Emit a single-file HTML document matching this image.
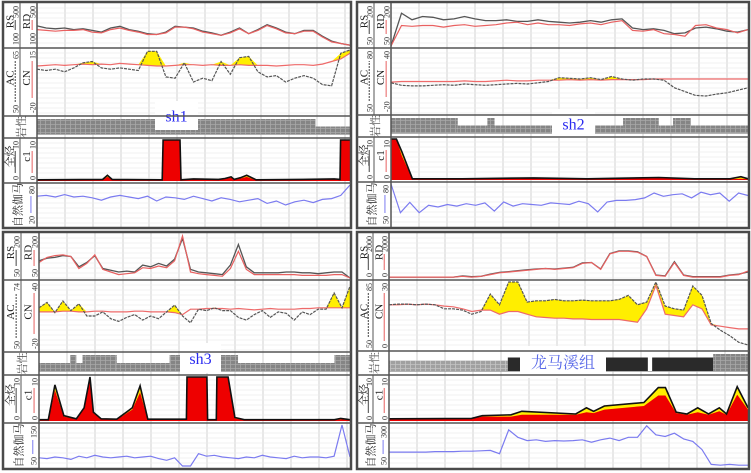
<!DOCTYPE html>
<html><head><meta charset="utf-8">
<style>
html,body{margin:0;padding:0;background:#fff;}
svg{display:block;font-family:"Liberation Serif","Noto Serif CJK SC",serif;}
</style></head>
<body>
<svg id="chart" width="751" height="473" viewBox="0 0 751 473">
<defs>
<pattern id="brick" width="5" height="4" patternUnits="userSpaceOnUse">
<rect width="5" height="4" fill="#858585"/>
<path d="M0 0.5H5M0.5 0V4" stroke="#a8a8a8" stroke-width="0.8"/>
</pattern>
<pattern id="brickL" width="5" height="4" patternUnits="userSpaceOnUse">
<rect width="5" height="4" fill="#a0a0a0"/>
<path d="M0 0.5H5M0.5 0V4" stroke="#c4c4c4" stroke-width="0.8"/>
</pattern>
</defs>
<g id="layer"></g>
</svg>
<script>
// ---------- Panel 1 (sh1) ----------
const p1_rs=[49,44,42,44,40,42,38,34,44,48,40,36,30,28,34,48,46,44,36,32,26,34,44,30,40,52,44,34,30,38,38,24,12,6,2];
const p1_rd=[40,38,36,38,38,40,34,32,40,44,38,34,28,28,32,46,46,42,34,30,26,32,42,30,38,50,42,32,30,36,36,22,10,6,2];
const p1_cn=[75,76,77,76,77,78,77,78,77,79,78,77,76,75,75,76,77,77,76,77,76,76,77,76,76,76,75,76,77,77,76,78,82,86,95];
const p1_ac=[70,68,70,66,72,80,82,72,70,72,70,68,98,98,58,56,80,50,56,52,82,62,88,90,66,58,60,50,56,60,56,46,44,95,100];
const p1_tg_depth=[0,21,22.5,24,40,40.3,45.7,46,50,58,60,62,63,65,67,70,85,95,96.8,97,100];
const p1_tg=[3,4,14,4,3,100,100,3,5,4,6,10,4,8,14,3,4,5,4,100,100];
const p1_c1=[2,3,10,3,2,100,100,2,4,3,5,8,3,6,10,2,3,4,3,100,100];
const p1_gr=[72,74,70,76,70,72,68,62,70,74,70,66,72,60,70,68,64,72,66,60,68,64,58,62,66,54,60,50,58,62,56,64,66,74,100];
const p1_litho_start=[0,89];
const p1_litho_end=[89,100];
const p1_litho_type=["full","half"];
// ---------- Panel 2 (sh2) ----------
const p2_rs=[0,80,64,72,70,64,66,72,66,62,62,64,60,60,64,60,58,56,58,62,58,64,66,44,40,42,38,30,32,44,46,42,36,34,40];
const p2_rd=[0,50,48,50,50,46,50,52,48,50,52,56,58,52,56,52,52,50,54,56,52,58,62,38,36,40,30,28,24,50,52,44,40,32,40];
const p2_cn=[49,50,50,50,50,50,50,51,50,50,51,52,51,51,52,52,52,53,52,53,52,53,53,53,53,54,54,54,54,54,54,54,54,54,54];
const p2_ac=[48,44,43,43,44,45,44,46,45,44,45,46,47,46,48,50,56,55,54,56,53,58,54,52,54,54,52,40,34,28,27,30,32,36,40];
const p2_tg_depth=[0,1.5,3,6,20,40,55,75,85,95,98,100];
const p2_tg=[100,100,70,3,3,5,3,6,3,3,8,3];
const p2_c1=[100,100,60,2,2,4,2,5,2,2,3,2];
const p2_gr=[100,30,55,30,48,44,50,46,52,48,54,34,56,46,52,50,48,54,52,50,58,52,32,56,60,60,62,66,78,70,74,76,66,80,74,78,58,78,72];
const p2_litho_start=[0,18.7,27,29,57,65,75,79,84];
const p2_litho_end=[18.7,27,29,57,65,75,79,84,100];
const p2_litho_type=["full","half","full","half","half","full","half","full","half"];
// ---------- Panel 3 (sh3) ----------
const p3_rs=[40,46,48,52,50,26,36,52,22,18,14,16,14,30,26,34,28,44,92,20,14,12,10,8,30,78,26,12,12,12,12,14,14,12,12,10,12,14,14,0];
const p3_rd=[36,48,52,54,50,22,34,54,20,14,8,10,12,24,22,28,24,40,98,14,10,8,6,4,22,62,20,8,8,8,8,8,8,6,6,6,6,8,8,0];
const p3_cn=[56,56,56,57,57,56,56,57,57,56,56,56,57,57,56,56,56,55,52,60,60,61,61,61,60,61,60,59,60,61,60,60,60,61,61,62,62,62,62,62];
const p3_ac=[62,70,55,72,58,68,50,50,56,46,42,48,52,44,50,46,56,66,50,40,60,58,62,58,58,48,44,52,58,48,56,54,44,56,52,60,60,84,62,94];
const p3_tg_depth=[0,3,5.1,8,12,14.5,16.4,17.5,20,25,30,32.5,35,40,47.4,47.6,54,54.2,57,57.2,60.8,63,66,80,95,97,100];
const p3_tg=[3,3,82,12,5,30,100,20,5,4,30,80,4,4,4,100,100,3,3,100,100,8,3,3,3,6,3];
const p3_c1=[2,2,70,10,4,28,100,18,4,3,26,65,3,3,3,100,100,2,2,100,100,6,2,2,2,4,2];
const p3_gr=[20,18,22,20,16,24,20,26,22,20,22,24,20,22,24,18,14,20,0,0,30,24,26,22,20,18,22,20,26,22,20,18,24,20,22,22,20,24,100,22];
const p3_litho_start=[0,10,12,14,25,42,58,64,95];
const p3_litho_end=[10,12,14,25,42,58,64,95,100];
const p3_litho_type=["half","full","half","full","half","full","full","half","full"];
// ---------- Panel 4 (龙马溪组) ----------
const p4_rd=[2,2,2,2,2,2,2,2,4,2,4,8,12,14,16,18,20,22,20,22,24,34,36,20,56,62,62,60,50,6,4,36,6,2,2,2,2,6,8,16];
const p4_rs=[2,2,2,2,2,2,2,2,5,3,4,9,13,15,17,19,21,22,21,23,25,35,36,21,57,63,63,61,50,7,5,38,7,3,3,3,3,7,9,14];
const p4_cn=[66,66,67,66,67,66,64,63,60,56,58,58,52,56,56,52,48,47,46,46,45,45,44,44,44,44,42,40,60,95,52,50,48,66,60,36,34,32,30,30];
const p4_ac=[66,67,67,66,67,66,60,60,58,52,56,82,66,100,100,70,72,72,74,72,72,73,72,72,72,74,80,66,70,100,64,60,58,94,80,38,28,20,10,6];
const p4_tg_depth=[0,23,26,34,37,52,55,57,60,71,75,77,80,83,86,89,92,94,97,100];
const p4_tg=[5,6,12,14,22,16,30,22,34,42,76,76,20,16,30,16,30,16,78,30];
const p4_c1=[4,5,10,10,14,14,20,18,26,34,58,58,18,14,20,14,22,14,60,26];
const p4_gr=[34,34,34,34,34,35,35,35,36,36,37,38,30,88,70,62,64,60,62,61,62,64,58,64,68,62,70,70,98,76,72,80,66,60,40,4,2,4,2,2];
const p4_litho_start=[0,33.1,60.2,73.3,90.3];
const p4_litho_end=[33.1,37.3,72.1,90.3,100];
const p4_litho_type=["light","black","black","black","full"];

const NS="http://www.w3.org/2000/svg";
const layer=document.getElementById("layer");
function mk(tag,attrs,parent){const e=document.createElementNS(NS,tag);for(const k in attrs)e.setAttribute(k,attrs[k]);(parent||layer).appendChild(e);return e;}

const panels=[
 {id:"sh1",x0:3,x1:351,px:37,lx:20,y:[3,48,116,138,183,227],tag:"sh1",tagBox:[155,101,43,29],
  rs:p1_rs,rd:p1_rd,cn:p1_cn,ac:p1_ac,tgd:p1_tg_depth,tg:p1_tg,c1:p1_c1,gr:p1_gr,ls:p1_litho_start,le:p1_litho_end,lt:p1_litho_type,
  lab:[["RS","100","500"],["RD","100","500"],["AC","50","65"],["CN","-20","15"],["全烃","0","10"],["c1","0","10"],["伽马","20","80"]]},
 {id:"sh2",x0:357,x1:749,px:391,lx:374,y:[3,48,115,137,182,227],tag:"sh2",tagBox:[552,109,43,29],
  rs:p2_rs,rd:p2_rd,cn:p2_cn,ac:p2_ac,tgd:p2_tg_depth,tg:p2_tg,c1:p2_c1,gr:p2_gr,ls:p2_litho_start,le:p2_litho_end,lt:p2_litho_type,
  lab:[["RS","50","200"],["RD","50","200"],["AC","50","80"],["CN","-20","40"],["全烃","0","10"],["c1","0","10"],["伽马","50","80"]]},
 {id:"sh3",x0:3,x1:351,px:39,lx:21,y:[233,280,352,375,423,468],tag:"sh3",tagBox:[180,343,41,30],
  rs:p3_rs,rd:p3_rd,cn:p3_cn,ac:p3_ac,tgd:p3_tg_depth,tg:p3_tg,c1:p3_c1,gr:p3_gr,ls:p3_litho_start,le:p3_litho_end,lt:p3_litho_type,
  lab:[["RS","50","200"],["RD","50","200"],["AC","50","74"],["CN","-20","40"],["全烃","0","10"],["c1","0","10"],["伽马","50","150"]]},
 {id:"lmx",x0:357,x1:749,px:389,lx:373,y:[233,280,351,375,423,468],tag:"龙马溪组",tagBox:[520,346,86,32],
  rs:p4_rs,rd:p4_rd,cn:p4_cn,ac:p4_ac,tgd:p4_tg_depth,tg:p4_tg,c1:p4_c1,gr:p4_gr,ls:p4_litho_start,le:p4_litho_end,lt:p4_litho_type,
  lab:[["RS","0","2000"],["RD","0","2000"],["AC","50","85"],["CN","0","30"],["全烃","0","10"],["c1","0","10"],["伽马","50","300"]]}
];

function xs(p,d){return p.px+d/100*(p.x1-1-p.px);}
function ys(t0,t1,v){return t1-2-v/100*(t1-t0-4);}
function evenPts(p,t0,t1,arr){return arr.map((v,i)=>[xs(p,i/(arr.length-1)*100),ys(t0,t1,v)]);}
function depthPts(p,t0,t1,dep,arr){return arr.map((v,i)=>[xs(p,dep[i]),ys(t0,t1,v)]);}
function ptsStr(a){return a.map(q=>q[0].toFixed(1)+","+q[1].toFixed(1)).join(" ");}

panels.forEach(p=>{
 const g=mk("g",{});
 
 
 const Y=p.y;
 for(let x=p.px+28;x<p.x1-2;x+=28){
  const gl=mk("line",{x1:x,x2:x,y1:Y[0],y2:Y[5],stroke:"#d0d0d0","stroke-width":1},g);
  
  
 }
 [0,1,3,4].forEach(k=>{
  for(let yy=Y[k]+5;yy<Y[k+1]-1;yy+=5){
   const hl=mk("line",{x1:p.px,x2:p.x1,y1:yy,y2:yy,stroke:"#ececec","stroke-width":0.8},g);
   
   
  }
 });
 const rs=mk("polyline",{points:ptsStr(evenPts(p,Y[0],Y[1],p.rs)),fill:"none",stroke:"#555","stroke-width":1.3},g);
 
 
 const rd=mk("polyline",{points:ptsStr(evenPts(p,Y[0],Y[1],p.rd)),fill:"none",stroke:"#e86060","stroke-width":1.2},g);
 
 
 const ac=evenPts(p,Y[1],Y[2],p.ac), cn=evenPts(p,Y[1],Y[2],p.cn);
 const up=p.ac.map((v,i)=>[ac[i][0],ys(Y[1],Y[2],Math.max(v,p.cn[i]))]);
 const fill=mk("polygon",{points:ptsStr(up.concat(cn.slice().reverse())),fill:"#ffee00",stroke:"none"},g);
 
 
 const cnl=mk("polyline",{points:ptsStr(cn),fill:"none",stroke:"#ee6a6a","stroke-width":1.2},g);
 
 
 const acl=mk("polyline",{points:ptsStr(ac),fill:"none",stroke:"#555","stroke-width":1.2,"stroke-dasharray":"3,1"},g);
 
 
 const lt=Y[2]+3, lb=Y[3]-4, lm=(lt+lb)/2;
 p.ls.forEach((s,i)=>{
  const x1=xs(p,s), x2=xs(p,p.le[i]); const ty=p.lt[i];
  let r;
  if(ty==="full") r=mk("rect",{x:x1,y:lt,width:x2-x1,height:lb-lt,fill:"url(#brick)"},g);
  else if(ty==="half") r=mk("rect",{x:x1,y:lm,width:x2-x1,height:lb-lm,fill:"url(#brick)"},g);
  else if(ty==="light") r=mk("rect",{x:x1,y:lm-2,width:x2-x1,height:lb-lm+2,fill:"url(#brickL)"},g);
  else r=mk("rect",{x:x1,y:lm-5,width:x2-x1,height:lb-lm+5,fill:"#2a2a2a"},g);
  
  
 });
 const lbase=mk("line",{x1:p.px,x2:p.x1,y1:lb+0.5,y2:lb+0.5,stroke:"#999","stroke-width":0.8},g);
 
 
 const tg=depthPts(p,Y[3],Y[4],p.tgd,p.tg), c1=depthPts(p,Y[3],Y[4],p.tgd,p.c1);
 const base=ys(Y[3],Y[4],0);
 const tga=mk("polygon",{points:ptsStr([[tg[0][0],base]].concat(tg,[[tg[tg.length-1][0],base]])),fill:"#ffee00"},g);
 
 
 const c1a=mk("polygon",{points:ptsStr([[c1[0][0],base]].concat(c1,[[c1[c1.length-1][0],base]])),fill:"#ee0000"},g);
 
 
 const tgl=mk("polyline",{points:ptsStr(tg),fill:"none",stroke:"#111","stroke-width":1.6},g);
 
 
 const gr=mk("polyline",{points:ptsStr(evenPts(p,Y[4],Y[5],p.gr)),fill:"none",stroke:"#7b7bf0","stroke-width":1.2},g);
 
 
 const tb=p.tagBox;
 const bx=mk("rect",{x:tb[0],y:tb[1],width:tb[2],height:tb[3],fill:"#fff"},g);
 
 
 const tx=mk("text",{x:tb[0]+tb[2]/2,y:tb[1]+tb[3]/2+6,"text-anchor":"middle","font-size":16,fill:p.id==="lmx"?"#5a6ae8":"#2a2af0"},g);
 tx.textContent=p.tag;
 
 
 const fr=mk("rect",{x:p.x0,y:Y[0]-1,width:p.x1-p.x0,height:Y[5]-Y[0]+2,fill:"none",stroke:"#4a4a4a","stroke-width":2.5},g);
 
 
 const vl=mk("line",{x1:p.px,x2:p.px,y1:Y[0],y2:Y[5],stroke:"#555","stroke-width":1.5},g);
 
 
 [1,2,3,4].forEach(k=>{
  const rl=mk("line",{x1:p.x0,x2:p.x1,y1:Y[k],y2:Y[k],stroke:"#555","stroke-width":1.5},g);
  
  
 });
 const cols=[[0,0],[0,1],[1,0],[1,1],[3,0],[3,1],[4,-1]];
 cols.forEach((c,i)=>{
  const k=c[0]; const y0=Y[k], y1=Y[k+1], cy=(y0+y1)/2;
  let left = c[1]===-1 ? p.x0+2 : (c[1]===0 ? p.x0+1 : p.lx);
  let right= c[1]===-1 ? p.px : (c[1]===0 ? p.lx : p.px);
  const w=right-left;
  const L=p.lab[i];
  const nameX=left+w*0.42, scX=left+w*0.92;
  const n=mk("text",{transform:`translate(${nameX+3},${cy-(c[1]===-1?0:4)}) rotate(-90)`,"text-anchor":"middle","font-size":11,fill:"#222"},g);
  n.textContent = c[1]===-1 ? "自然"+L[0] : L[0];
  
  
  const s0=mk("text",{transform:`translate(${scX},${y1-3}) rotate(-90)`,"text-anchor":"start","font-size":8,fill:"#333"},g);
  s0.textContent=L[1];
  
  
  const s1=mk("text",{transform:`translate(${scX},${y0+3}) rotate(-90)`,"text-anchor":"end","font-size":8,fill:"#333"},g);
  s1.textContent=L[2];
  
  
  const sl=mk("line",{x1:scX-3.5,x2:scX-3.5,y1:y1-6-L[1].length*4,y2:y0+5+L[2].length*4,stroke:i%2===1||i===6?(i===6?"#7b7bf0":"#e86060"):"#444","stroke-width":1,"stroke-dasharray":i===2?"2,1":"none"},g);
  
  
 });
 const sep=mk("line",{x1:p.lx,x2:p.lx,y1:Y[0],y2:Y[2],stroke:"#555","stroke-width":1},g);
 
 
 const sep2=mk("line",{x1:p.lx,x2:p.lx,y1:Y[3],y2:Y[4],stroke:"#555","stroke-width":1},g);
 
 
 const lithL=mk("text",{transform:`translate(${(p.x0+p.px)/2+5},${(Y[2]+Y[3])/2}) rotate(-90)`,"text-anchor":"middle","font-size":11,fill:"#444"},g);
 lithL.textContent="岩性";
 
 
});
</script>
</body></html>
